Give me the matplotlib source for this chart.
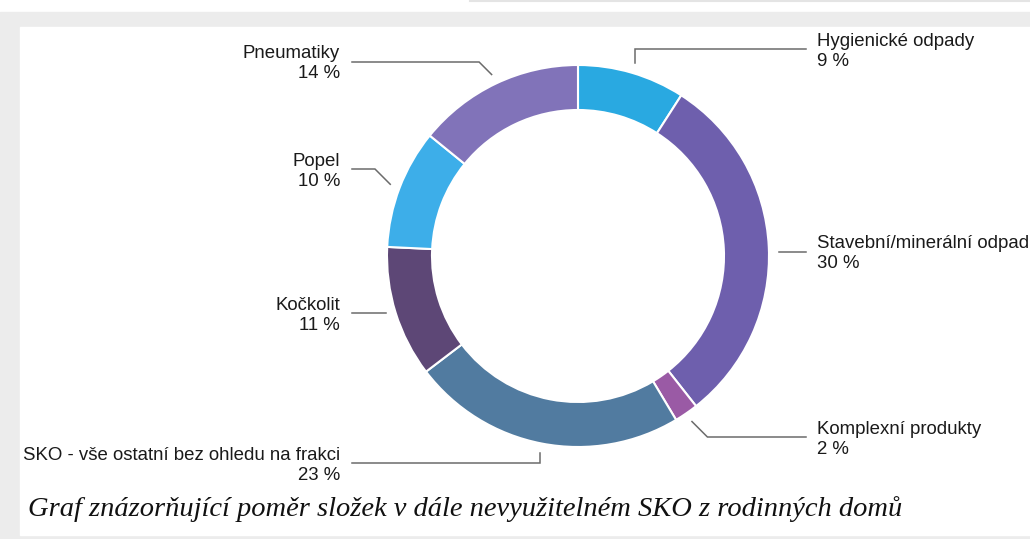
import numpy as np
import matplotlib
matplotlib.use('Agg')
import matplotlib.pyplot as plt
from matplotlib.patches import Rectangle

# data: composition of residual municipal waste from family houses (clockwise from top)
names = ['Hygienické odpady', 'Stavební/minerální odpad', 'Komplexní produkty',
         'SKO - vše ostatní bez ohledu na frakci', 'Kočkolit', 'Popel', 'Pneumatiky']
shares = [9, 30, 2, 23, 11, 10, 14]
colors = ['#29a9e1', '#6e5fad', '#9a5aa5', '#517ba0', '#5d4776', '#3daee9', '#8173b9']
# y position (pixels from top) of each leader line, i.e. where each label sits
label_y = [49, 252, 437, 463, 313, 169, 62]
caption = 'Graf znázorňující poměr složek v dále nevyužitelném SKO z rodinných domů'

W, H = 1030, 539
fig = plt.figure(figsize=(W / 100, H / 100), dpi=100)
ax = fig.add_axes([0, 0, 1, 1])

def py(y):
    # pixel row (from top) -> data y
    return H - y

# page background: grey frame with white panel
ax.add_patch(Rectangle((0, 0), W, py(12), color='#ececec', zorder=0))
ax.add_patch(Rectangle((20, py(535)), W - 20, 535 - 27, color='white', zorder=0))
ax.plot([470, W], [py(1), py(1)], color='#e4e4e4', lw=1.5, zorder=0)

cx, cy, r = 578, py(256), 191
wedges, _ = ax.pie(shares, colors=colors, startangle=90, counterclock=False,
                   radius=r, center=(cx, cy),
                   wedgeprops=dict(width=45, edgecolor='white', linewidth=1.5))

font = ['Liberation Sans', 'DejaVu Sans']
for w, name, share, ly in zip(wedges, names, shares, label_y):
    mid = np.deg2rad((w.theta1 + w.theta2) / 2)
    ax_x = cx + (r + 10) * np.cos(mid)
    ax_y = cy + (r + 10) * np.sin(mid)
    side = 1 if np.cos(mid) > 0 else -1
    ly_d = py(ly)
    end_x = 806 if side > 0 else 352
    if abs(ly_d - ax_y) < 6:
        xs, ys = [ax_x, end_x], [ly_d, ly_d]
    else:
        if abs(np.cos(mid)) < 0.34:
            ex = ax_x
        else:
            ex = ax_x + side * abs(ly_d - ax_y)
        xs, ys = [ax_x, ex, end_x], [ax_y, ly_d, ly_d]
    ax.plot(xs, ys, color='#6b6b6b', lw=1.1, solid_joinstyle='miter', zorder=3)
    tx = 817 if side > 0 else 340
    ha = 'left' if side > 0 else 'right'
    ax.text(tx, ly_d + 3.5, name, ha=ha, va='baseline', fontsize=13.4,
            family=font, color='#1a1a1a')
    ax.text(tx, ly_d - 16.5, f'{share} %', ha=ha, va='baseline', fontsize=13.4,
            family=font, color='#1a1a1a')

ax.text(28, py(516), caption, ha='left', va='baseline', fontsize=20.5,
        family=['Liberation Serif', 'DejaVu Serif'], style='italic', color='#111111')

ax.set_xlim(0, W)
ax.set_ylim(0, H)
ax.set_aspect('auto')
ax.axis('off')
fig.savefig('out.png', dpi=100, facecolor='white')
